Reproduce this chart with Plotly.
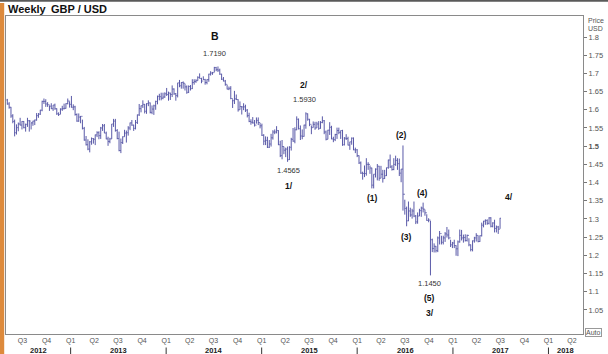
import pandas as pd
import plotly.graph_objects as go

# ---------------- data (weekly GBP/USD, weeks ending Friday) ----------------
first_week = "2012-05-04"
first_open = 1.6270

highs = [
    # 2012
    1.6300,1.6210,1.6080,1.5880,1.5730,1.5600,1.5650,1.5780,1.5690,1.5690,1.5620,1.5780,1.5720,1.5660,1.5700,1.5730,1.5910,1.5910,
    1.6000,1.6250,1.6310,1.6290,1.6210,1.6120,1.6180,1.6130,1.6170,1.6040,1.5930,1.6040,1.6110,1.6170,1.6180,1.6310,1.6230,1.6380,
    # 2013
    1.6150,1.6110,1.5900,1.5900,1.5830,1.5730,1.5530,1.5280,1.5190,1.5140,1.5240,1.5220,1.5320,1.5410,1.5410,1.5530,1.5610,1.5610,
    1.5400,1.5260,1.5230,1.5610,1.5750,1.5750,1.5470,1.5400,1.5210,1.5270,1.5450,1.5430,1.5550,1.5650,1.5720,1.5590,1.5720,1.5870,
    1.6160,1.6120,1.6260,1.6160,1.6180,1.6260,1.6200,1.6120,1.6140,1.6250,1.6390,1.6440,1.6470,1.6470,1.6480,1.6600,
    # 2014
    1.6500,1.6470,1.6670,1.6590,1.6460,1.6740,1.6820,1.6760,1.6780,1.6720,1.6670,1.6670,1.6680,1.6840,1.6840,1.6840,1.6920,1.7000,
    1.6880,1.6920,1.6850,1.6840,1.6990,1.7060,1.7040,1.7180,1.7180,1.7190,1.7130,1.6990,1.6900,1.6820,1.6690,1.6640,1.6650,1.6290,
    1.6520,1.6420,1.6290,1.6230,1.6090,1.6180,1.6140,1.6020,1.5920,1.5740,1.5800,1.5720,1.5790,1.5790,1.5640,1.5620,
    # 2015
    1.5330,1.5270,1.5260,1.5170,1.5340,1.5440,1.5460,1.5550,1.5440,1.5150,1.5170,1.4990,1.4960,1.4990,1.5000,1.5230,1.5500,1.5520,
    1.5820,1.5760,1.5570,1.5460,1.5590,1.5930,1.5900,1.5750,1.5570,1.5680,1.5670,1.5670,1.5690,1.5690,1.5820,1.5720,1.5430,1.5450,
    1.5660,1.5560,1.5260,1.5340,1.5510,1.5510,1.5430,1.5450,1.5250,1.5330,1.5260,1.5120,1.5240,1.5240,1.4960,1.4920,
    # 2016
    1.4750,1.4580,1.4300,1.4470,1.4670,1.4560,1.4470,1.4410,1.4230,1.4390,1.4510,1.4460,1.4460,1.4350,1.4350,1.4410,1.4630,1.4770,
    1.4480,1.4670,1.4740,1.4670,1.4660,1.4370,1.5020,1.3530,1.3340,1.3480,1.3310,1.3280,1.3480,1.3110,1.3180,1.3280,1.3340,1.3450,
    1.3260,1.3130,1.3020,1.2950,1.2460,1.2330,1.2260,1.2520,1.2670,1.2540,1.2540,1.2640,1.2780,1.2710,1.2430,1.2370,
    # 2017
    1.2430,1.2280,1.2410,1.2710,1.2700,1.2570,1.2580,1.2570,1.2470,1.2300,1.2410,1.2510,1.2610,1.2550,1.2550,1.2900,1.2950,1.2990,
    1.2990,1.3050,1.3050,1.2910,1.2980,1.2820,1.2810,1.3030,
]

lows = [
    # 2012
    1.6140,1.6030,1.5780,1.5630,1.5270,1.5320,1.5410,1.5570,1.5460,1.5490,1.5400,1.5530,1.5400,1.5460,1.5560,1.5580,1.5700,1.5780,
    1.5860,1.5960,1.6160,1.6080,1.6080,1.5970,1.6020,1.5970,1.6000,1.5860,1.5830,1.5880,1.5970,1.6010,1.6030,1.6150,1.6060,1.6060,
    # 2013
    1.5990,1.5840,1.5670,1.5670,1.5630,1.5460,1.5150,1.5020,1.4890,1.4830,1.5040,1.5070,1.5030,1.5250,1.5190,1.5200,1.5420,1.5360,
    1.5190,1.5010,1.5080,1.5200,1.5530,1.5400,1.5190,1.4860,1.4810,1.5060,1.5260,1.5100,1.5290,1.5440,1.5560,1.5420,1.5460,1.5610,
    1.5830,1.5930,1.6050,1.5900,1.5890,1.6100,1.5900,1.5880,1.5860,1.6000,1.6150,1.6260,1.6260,1.6290,1.6330,1.6380,
    # 2014
    1.6250,1.6270,1.6350,1.6410,1.6250,1.6340,1.6620,1.6580,1.6580,1.6530,1.6440,1.6460,1.6530,1.6570,1.6690,1.6740,1.6800,1.6860,
    1.6730,1.6820,1.6690,1.6700,1.6770,1.6940,1.6960,1.7030,1.7060,1.7040,1.6960,1.6820,1.6780,1.6660,1.6560,1.6540,1.6290,1.6050,
    1.6160,1.6270,1.5950,1.6000,1.5870,1.5990,1.5940,1.5790,1.5660,1.5590,1.5620,1.5540,1.5620,1.5580,1.5490,1.5280,
    # 2015
    1.5030,1.5030,1.4950,1.4950,1.4990,1.5180,1.5330,1.5350,1.5030,1.4700,1.4640,1.4780,1.4700,1.4570,1.4620,1.4880,1.5120,1.5080,
    1.5440,1.5460,1.5170,1.5190,1.5260,1.5480,1.5700,1.5550,1.5330,1.5510,1.5450,1.5500,1.5450,1.5480,1.5630,1.5330,1.5160,1.5190,
    1.5310,1.5190,1.5110,1.5140,1.5200,1.5330,1.5200,1.5010,1.5020,1.5170,1.5020,1.4900,1.5040,1.4890,1.4810,1.4700,
    # 2016
    1.4510,1.4240,1.4080,1.4150,1.4190,1.4350,1.4240,1.3840,1.3840,1.4140,1.4060,1.4050,1.4120,1.4000,1.4100,1.4180,1.4380,1.4400,
    1.4330,1.4340,1.4460,1.4350,1.4180,1.4010,1.3230,1.3120,1.2800,1.2940,1.3060,1.3010,1.3050,1.2860,1.2870,1.3080,1.3060,1.3180,
    1.3090,1.2950,1.2910,1.1450,1.2090,1.2080,1.2080,1.2090,1.2300,1.2300,1.2300,1.2370,1.2490,1.2440,1.2230,1.2200,
    # 2017
    1.2200,1.1990,1.1980,1.2350,1.2410,1.2350,1.2380,1.2380,1.2250,1.2110,1.2110,1.2350,1.2380,1.2360,1.2370,1.2520,1.2770,1.2840,
    1.2840,1.2850,1.2770,1.2770,1.2630,1.2630,1.2590,1.2730,
]

closes = [
    # 2012
    1.6160,1.6070,1.5830,1.5680,1.5370,1.5510,1.5610,1.5580,1.5680,1.5510,1.5600,1.5700,1.5690,1.5640,1.5690,1.5720,1.5840,1.5880,
    1.5990,1.6230,1.6230,1.6160,1.6140,1.6100,1.6030,1.6130,1.6030,1.5890,1.5870,1.6020,1.6030,1.6040,1.6170,1.6240,1.6150,1.6070,
    # 2013
    1.6080,1.5870,1.5690,1.5800,1.5820,1.5490,1.5170,1.5040,1.4920,1.5120,1.5210,1.5190,1.5310,1.5370,1.5290,1.5500,1.5560,1.5360,
    1.5200,1.5130,1.5200,1.5610,1.5690,1.5430,1.5210,1.4880,1.5100,1.5260,1.5360,1.5370,1.5500,1.5640,1.5580,1.5490,1.5650,1.5860,
    1.6030,1.6110,1.6150,1.5960,1.6170,1.6190,1.5930,1.6020,1.6110,1.6230,1.6370,1.6360,1.6320,1.6350,1.6440,1.6420,
    # 2014
    1.6460,1.6420,1.6570,1.6440,1.6390,1.6740,1.6660,1.6750,1.6730,1.6630,1.6480,1.6640,1.6580,1.6750,1.6780,1.6800,1.6890,1.6860,
    1.6790,1.6830,1.6750,1.6830,1.6980,1.7010,1.7020,1.7160,1.7100,1.7090,1.6980,1.6840,1.6790,1.6700,1.6570,1.6590,1.6310,1.6250,
    1.6300,1.6280,1.6000,1.6090,1.6080,1.6080,1.5990,1.5840,1.5680,1.5660,1.5640,1.5580,1.5710,1.5650,1.5560,1.5300,
    # 2015
    1.5140,1.5160,1.4970,1.5060,1.5230,1.5390,1.5390,1.5430,1.5040,1.4740,1.4990,1.4890,1.4920,1.4630,1.4970,1.5190,1.5140,1.5450,
    1.5740,1.5480,1.5280,1.5270,1.5580,1.5890,1.5740,1.5600,1.5510,1.5600,1.5500,1.5610,1.5490,1.5650,1.5700,1.5390,1.5190,1.5440,
    1.5520,1.5200,1.5180,1.5320,1.5430,1.5380,1.5430,1.5040,1.5220,1.5210,1.5030,1.5120,1.5220,1.4900,1.4900,1.4740,
    # 2016
    1.4540,1.4260,1.4250,1.4250,1.4500,1.4500,1.4400,1.3930,1.4230,1.4370,1.4450,1.4120,1.4230,1.4110,1.4190,1.4410,1.4620,1.4430,
    1.4360,1.4500,1.4610,1.4520,1.4260,1.4370,1.3680,1.3290,1.2950,1.3220,1.3110,1.3220,1.3080,1.2920,1.3080,1.3230,1.3300,1.3270,
    1.3170,1.2960,1.2970,1.2430,1.2190,1.2250,1.2130,1.2480,1.2600,1.2360,1.2480,1.2590,1.2560,1.2480,1.2290,1.2340,
    # 2017
    1.2270,1.2180,1.2370,1.2550,1.2480,1.2490,1.2410,1.2550,1.2290,1.2160,1.2400,1.2480,1.2550,1.2380,1.2540,1.2830,1.2940,1.2960,
    1.2880,1.3030,1.2800,1.2890,1.2740,1.2780,1.2720,1.3020,
]

price_ticks = [1.05, 1.1, 1.15, 1.2, 1.25, 1.3, 1.35, 1.4, 1.45, 1.5, 1.55, 1.6, 1.65, 1.7, 1.75, 1.8]
price_tick_labels = ["1.05", "1.1", "1.15", "1.2", "1.25", "1.3", "1.35", "1.4", "1.45", "<b>1.5</b>",
                     "1.55", "1.6", "1.65", "1.7", "1.75", "1.8"]
years = [2012, 2013, 2014, 2015, 2016, 2017, 2018]

wave_texts = ["B", "1.7190", "2/", "1.5930", "1.4565", "1/", "(1)", "(2)", "(4)", "(3)",
              "1.1450", "(5)", "3/", "4/"]
wave_dates = ["2014-07-06", "2014-07-04", "2015-06-13", "2015-06-13", "2015-04-14", "2015-04-14",
              "2016-03-01", "2016-06-20", "2016-09-08", "2016-07-09", "2016-10-05", "2016-10-05",
              "2016-10-05", "2017-08-05"]
wave_prices = [1.8014, 1.756, 1.668, 1.627, 1.4319, 1.3893, 1.3563, 1.5308, 1.3714, 1.2505,
               1.1214, 1.0830, 1.0418, 1.3604]

# ---------------- figure ----------------
FONT = "Liberation Sans, Arial, sans-serif"
BAR = "#5a5aa8"

dates = pd.date_range(first_week, periods=len(closes), freq="W-FRI")
opens = [first_open] + closes[:-1]

x_start = pd.Timestamp("2012-04-29")
x_end = pd.Timestamp("2018-05-13")

fig = go.Figure(go.Ohlc(
    x=dates, open=opens, high=highs, low=lows, close=closes,
    increasing=dict(line=dict(color=BAR, width=1)),
    decreasing=dict(line=dict(color=BAR, width=1)),
    tickwidth=0.45, hoverinfo="skip",
))

quarters = pd.date_range("2012-07-01", "2018-04-01", freq="QS")
q_text = ["Q%d" % q.quarter for q in quarters]

annotations = []
# title
annotations.append(dict(text="<b>Weekly</b>", xref="paper", yref="paper", x=0.0, y=1 + 7/318,
                        xanchor="left", yanchor="middle", showarrow=False,
                        font=dict(family=FONT, size=11, color="#111")))
annotations.append(dict(text="<b>GBP / USD</b>", xref="paper", yref="paper", x=43/579, y=1 + 7/318,
                        xanchor="left", yanchor="middle", showarrow=False,
                        font=dict(family=FONT, size=11, color="#111")))
# axis caption
annotations.append(dict(text="Price", xref="paper", yref="paper", x=1 + 3/579, y=(334-20)/318,
                        xanchor="left", yanchor="middle", showarrow=False,
                        font=dict(family=FONT, size=7, color="#555")))
annotations.append(dict(text="USD", xref="paper", yref="paper", x=1 + 3/579, y=(334-28.5)/318,
                        xanchor="left", yanchor="middle", showarrow=False,
                        font=dict(family=FONT, size=7, color="#555")))
annotations.append(dict(text="Auto", xref="paper", yref="paper", x=1 + 11/579, y=(334-332.5)/318,
                        xanchor="center", yanchor="middle", showarrow=False,
                        bordercolor="#999", borderwidth=1, borderpad=0, bgcolor="white",
                        font=dict(family=FONT, size=7, color="#555")))
# year labels
for yr in years:
    a = max(pd.Timestamp(f"{yr}-01-01"), x_start)
    b = min(pd.Timestamp(f"{yr+1}-01-01"), x_end)
    mid = a + (b - a) / 2
    annotations.append(dict(text=f"<b>{yr}</b>", xref="x", yref="paper", x=mid, y=-16/318,
                            xanchor="center", yanchor="middle", showarrow=False,
                            font=dict(family=FONT, size=7.5, color="#222")))
# wave labels (price levels in regular type, wave counts in bold)
for t, d, p in zip(wave_texts, wave_dates, wave_prices):
    is_level = "." in t
    if is_level:
        txt, size, color = t, 7.5, "#333"
    else:
        txt, size, color = f"<b>{t}</b>", (10.5 if t == "B" else 8.5), "#111"
    annotations.append(dict(text=txt, xref="x", yref="y", x=d, y=p,
                            xanchor="center", yanchor="middle", showarrow=False,
                            font=dict(family=FONT, size=size, color=color)))

shapes = []
# orange side stripe
shapes.append(dict(type="rect", xref="paper", yref="paper", x0=-8/579, x1=-1.8/579,
                   y0=-0.1, y1=1 + 13/318, line=dict(width=0), fillcolor="#dd8a3c", layer="above"))
# top dark rule
shapes.append(dict(type="rect", xref="paper", yref="paper", x0=-0.02, x1=1.06,
                   y0=1 + 14.3/318, y1=1 + 17/318, line=dict(width=0), fillcolor="#5a5a5a"))
# year separators
for yr in years[1:]:
    shapes.append(dict(type="line", xref="x", yref="paper", x0=f"{yr}-01-01", x1=f"{yr}-01-01",
                       y0=-13.5/318, y1=-20.5/318, line=dict(color="#333", width=1)))

fig.update_layout(
    width=608, height=354,
    margin=dict(l=5, r=24, t=16, b=20, pad=0),
    paper_bgcolor="white", plot_bgcolor="white",
    showlegend=False,
    font=dict(family=FONT),
    xaxis=dict(
        type="date", range=[x_start, x_end], rangeslider=dict(visible=False),
        showgrid=False, zeroline=False, showline=True, linecolor="#8a8a8a", linewidth=1, mirror=True,
        tickmode="array", tickvals=quarters, ticktext=q_text, ticks="",
        tickfont=dict(family=FONT, size=7, color="#555"),
    ),
    yaxis=dict(
        side="right", range=[0.984, 1.8577], showgrid=False, zeroline=False,
        showline=True, linecolor="#8a8a8a", linewidth=1, mirror=True,
        tickmode="array", tickvals=price_ticks, ticktext=price_tick_labels,
        ticks="outside", ticklen=3, tickcolor="#777",
        tickfont=dict(family=FONT, size=7.5, color="#555"),
    ),
    annotations=annotations,
    shapes=shapes,
)

fig.write_html("out.html")
